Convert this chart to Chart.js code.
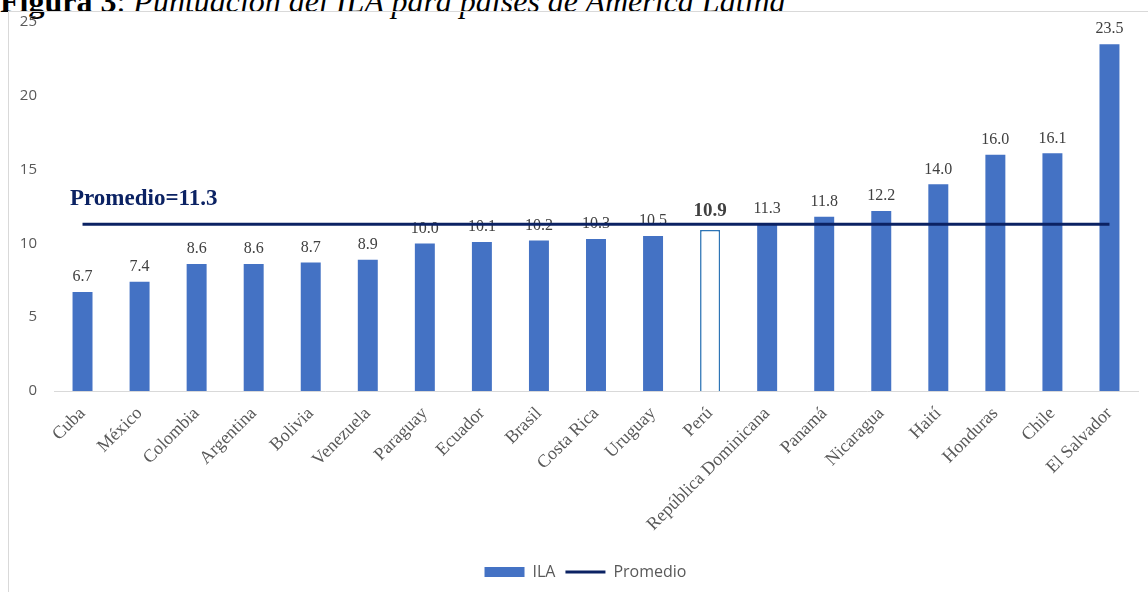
<!DOCTYPE html>
<html>
<head>
<meta charset="utf-8">
<script src="https://cdn.jsdelivr.net/npm/chart.js@4.4.1/dist/chart.umd.min.js"></script>
<style>
  body { margin: 0; background: #fff; width: 1148px; height: 592px; overflow: hidden; position: relative; }
  #title { position: absolute; left: 0; top: -15px; font-family: "Liberation Serif", "Times New Roman", serif; font-size: 32px; line-height: 32px; color: #000; white-space: nowrap; }
  #title b { font-weight: bold; }
  #title i { font-style: italic; }
  #frame { position: absolute; left: 8px; top: 11px; width: 1148px; height: 600px; border-left: 1px solid #d9d9d9; border-top: 1px solid #d9d9d9; }
  #box { position: absolute; left: 9px; top: -4px; width: 1139px; height: 596px; }
</style>
</head>
<body>
<div id="title"><b>Figura 3</b>: <i>Puntuación del ILA para países de América Latina</i></div>
<div id="frame"></div>
<div id="box"><canvas id="ila"></canvas></div>
<script>
var paises = ["Cuba", "México", "Colombia", "Argentina", "Bolivia", "Venezuela", "Paraguay", "Ecuador", "Brasil", "Costa Rica", "Uruguay", "Perú", "República Dominicana", "Panamá", "Nicaragua", "Haití", "Honduras", "Chile", "El Salvador"];
var ila = [6.7, 7.4, 8.6, 8.6, 8.7, 8.9, 10.0, 10.1, 10.2, 10.3, 10.5, 10.9, 11.3, 11.8, 12.2, 14.0, 16.0, 16.1, 23.5];
var promedio = 11.3;
var yTicks = [0, 5, 10, 15, 20, 25];
var destacado = "Perú";

var azul = '#4472c4';
var marino = '#0b2263';
var gris = '#595959';

// colores por barra: Perú va hueco con borde
var fondos = paises.map(function (p) { return p === destacado ? '#ffffff' : azul; });
var bordes = paises.map(function (p) { return p === destacado ? '#2e75b6' : azul; });
var anchos = paises.map(function (p) { return p === destacado ? 1.5 : 0; });

// etiquetas de valor sobre cada barra + texto del promedio
var etiquetas = {
  id: 'etiquetas',
  afterLayout: function (chart) {
    // la leyenda del original va un poco corrida a la derecha
    chart.legend.left += 12;
    chart.legend.right += 12;
  },
  beforeDatasetsDraw: function (chart) {
    var ctx = chart.ctx;
    var meta = chart.getDatasetMeta(0);
    ctx.save();
    ctx.textAlign = 'center';
    ctx.textBaseline = 'bottom';
    meta.data.forEach(function (bar, i) {
      if (paises[i] === destacado) {
        ctx.font = 'bold 19px "Liberation Serif", serif';
        ctx.fillStyle = '#404040';
        ctx.fillText(ila[i].toFixed(1), bar.x, bar.y - 10);
      } else {
        ctx.font = '16px "Liberation Serif", serif';
        ctx.fillStyle = '#404040';
        ctx.fillText(ila[i].toFixed(1), bar.x, bar.y - 7);
      }
    });
    var y = chart.scales.y.getPixelForValue(promedio);
    ctx.font = 'bold 23px "Liberation Serif", serif';
    ctx.fillStyle = marino;
    ctx.textAlign = 'left';
    ctx.textBaseline = 'alphabetic';
    ctx.fillText('Promedio=' + promedio.toFixed(1), chart.chartArea.left + 16, y - 19);
    ctx.restore();
  }
};

var ctx = document.getElementById('ila').getContext('2d');
var grafico = new Chart(ctx, {
  type: 'bar',
  data: {
    labels: paises,
    datasets: [{
      label: 'ILA',
      data: ila,
      backgroundColor: fondos,
      borderColor: bordes,
      borderWidth: anchos,
      barPercentage: 0.35,
      categoryPercentage: 1,
      order: 1
    }, {
      type: 'line',
      label: 'Promedio',
      data: paises.map(function () { return promedio; }),
      borderColor: marino,
      backgroundColor: marino,
      borderWidth: 3,
      pointRadius: 0,
      fill: false,
      order: 0
    }]
  },
  options: {
    responsive: true,
    maintainAspectRatio: false,
    animation: false,
    layout: { padding: { top: 11, right: 10, left: 0, bottom: 2 } },
    plugins: {
      tooltip: { enabled: false },
      legend: {
        position: 'bottom',
        labels: {
          usePointStyle: true,
          pointStyleWidth: 40,
          boxHeight: 10,
          padding: 10,
          color: gris,
          font: { family: '"Open Sans", "Liberation Sans", sans-serif', size: 16 },
          generateLabels: function () {
            return [
              { text: 'ILA', fillStyle: azul, strokeStyle: azul, lineWidth: 0, pointStyle: 'rect', datasetIndex: 0, hidden: false, fontColor: gris },
              { text: 'Promedio', fillStyle: marino, strokeStyle: marino, lineWidth: 3, pointStyle: 'line', datasetIndex: 1, hidden: false, fontColor: gris }
            ];
          }
        }
      }
    },
    scales: {
      x: {
        grid: { display: false },
        border: { display: true, color: '#d9d9d9', width: 1 },
        ticks: {
          autoSkip: false,
          minRotation: 45,
          maxRotation: 45,
          padding: 4,
          color: gris,
          font: { family: '"Liberation Serif", "Times New Roman", serif', size: 18 }
        },
        afterFit: function (s) { s.height = 163; }
      },
      y: {
        min: 0,
        max: 25,
        grid: { display: false, drawTicks: false },
        border: { display: false },
        afterBuildTicks: function (s) { s.ticks = yTicks.map(function (v) { return { value: v }; }); },
        ticks: {
          padding: 17,
          color: gris,
          font: { family: '"Open Sans", "Liberation Sans", sans-serif', size: 15 }
        },
        afterFit: function (s) { s.width = 45; }
      }
    }
  },
  plugins: [etiquetas]
});
</script>
</body>
</html>
